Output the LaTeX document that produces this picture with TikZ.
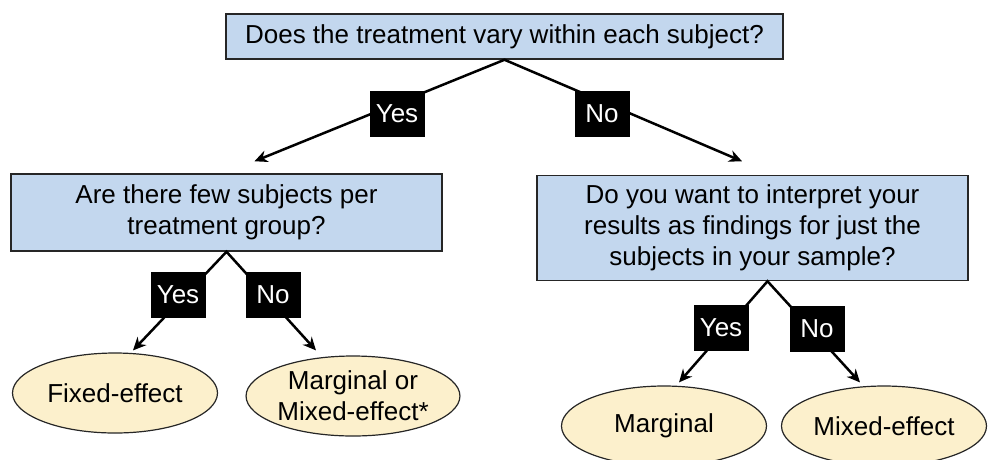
\documentclass[tikz,border=0pt]{standalone}
\usepackage{fontspec}
\setmainfont{Liberation Sans}
\usetikzlibrary{shapes.geometric,arrows.meta}
\definecolor{qblue}{RGB}{195,215,238}
\definecolor{ayellow}{RGB}{252,240,204}
\begin{document}
\begin{tikzpicture}[x=1pt,y=1pt,font=\fontsize{26}{31}\selectfont]
\tikzstyle{qb}=[draw=black!85,line width=1.5pt,fill=qblue,align=center,inner sep=0pt]
\tikzstyle{ans}=[draw=black!85,line width=1.2pt,fill=ayellow,ellipse,align=center,inner sep=0pt,minimum width=205pt,minimum height=80pt]
\tikzstyle{yn}=[fill=black,text=white,inner sep=0pt,minimum width=55pt,minimum height=46pt]
\tikzstyle{fork}=[line width=2.5pt,{Stealth[length=13pt,width=12pt]}-{Stealth[length=13pt,width=12pt]}]
\useasboundingbox (0,0) rectangle (993,-459);

% questions
\node [qb,minimum width=557pt,minimum height=45pt] (top) at (504.5,-36.5) {Does the treatment vary within each subject?};
\node [qb,minimum width=431pt,minimum height=77pt,below of=top,node distance=176pt,xshift=-278pt] (few) {Are there few subjects per\\treatment group?};
\node [qb,minimum width=431pt,minimum height=105pt,below of=top,node distance=191.5pt,xshift=248pt] (interp) {Do you want to interpret your\\results as findings for just the\\subjects in your sample?};

% answers
\node [ans,below of=few,node distance=180.5pt,xshift=-111.5pt] (fixed) {Fixed-effect};
\node [ans,minimum width=207pt,below of=few,node distance=183.5pt,xshift=126.5pt] (mom) {Marginal or\\Mixed-effect*};
\node [ans,below of=interp,node distance=198pt,xshift=-88.5pt] (marg) {Marginal};
\node [ans,below of=interp,node distance=198pt,xshift=131.5pt] (mixed) {Mixed-effect};

\draw[fork] ([xshift=28pt,yshift=12pt]few.north) -- (top.south) -- ([xshift=-10.5pt,yshift=13.5pt]interp.north);
\draw[fork] ([xshift=18pt,yshift=2pt]fixed.north) -- (few.south) -- ([xshift=-37pt,yshift=5pt]mom.north);
\draw[fork] ([xshift=15pt,yshift=3pt]marg.north) -- ([xshift=15pt]interp.south) -- ([xshift=-24pt,yshift=3pt]mixed.north);

% yes / no
\node [yn,below of=top,node distance=77.5pt,xshift=-107.5pt] (y1) {Yes};
\node [yn,below of=top,node distance=77.5pt,xshift=97.5pt] (n1) {No};
\node [yn,below of=few,node distance=82.5pt,xshift=-48.5pt] (y2) {Yes};
\node [yn,below of=few,node distance=82.5pt,xshift=46.5pt] (n2) {No};
\node [yn,below of=interp,node distance=100pt,xshift=-31.5pt] (y3) {Yes};
\node [yn,below of=interp,node distance=101pt,xshift=64.5pt] (n3) {No};
\end{tikzpicture}
\end{document}
